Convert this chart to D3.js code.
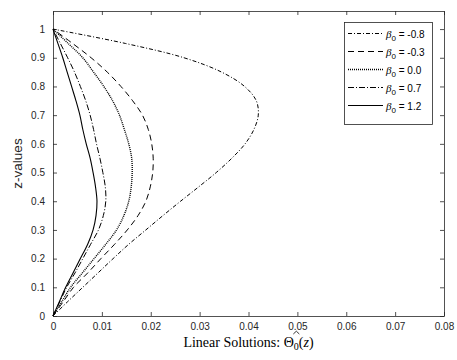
<!DOCTYPE html>
<html>
<head>
<meta charset="utf-8">
<script src="https://cdn.jsdelivr.net/npm/d3@7"></script>
<style>
  body { margin: 0; background: #fff; }
  svg { display: block; }
  .tick text { font-family: "Liberation Sans", Arial, sans-serif; font-size: 10px; fill: #262626; }
</style>
</head>
<body>
<div id="chart"></div>
<script>
// z samples (vertical axis)
const zVals = [0, 0.05, 0.1, 0.15, 0.2, 0.25, 0.3, 0.35, 0.4, 0.45, 0.5,
               0.55, 0.6, 0.65, 0.7, 0.75, 0.8, 0.85, 0.9, 0.95, 1.0];

// Theta_0(z) per beta_0
const thetaM08 = [0, 0.0030, 0.0061, 0.0092, 0.0123, 0.0155, 0.0190, 0.0225, 0.0261, 0.0298, 0.0334,
                  0.0366, 0.0393, 0.0411, 0.0420, 0.0416, 0.0392, 0.0345, 0.0268, 0.0148, 0];
const thetaM03 = [0, 0.0021, 0.0042, 0.0071, 0.0098, 0.0126, 0.0152, 0.0174, 0.0190, 0.0199, 0.0204,
                  0.0205, 0.0202, 0.0195, 0.0183, 0.0163, 0.0139, 0.0111, 0.0078, 0.0040, 0];
const theta00 = [0, 0.0018, 0.0036, 0.0060, 0.0084, 0.0108, 0.0130, 0.0145, 0.0155, 0.0160, 0.0162,
                 0.0161, 0.0155, 0.0146, 0.0136, 0.0122, 0.0104, 0.0083, 0.0061, 0.0031, 0];
const theta07 = [0, 0.0014, 0.0028, 0.0045, 0.0061, 0.0077, 0.0093, 0.0103, 0.0108, 0.0107, 0.0102,
                 0.0096, 0.0089, 0.0083, 0.0076, 0.0067, 0.0056, 0.0044, 0.0030, 0.0015, 0];
const theta12 = [0, 0.0013, 0.0026, 0.0041, 0.0056, 0.0071, 0.0082, 0.0088, 0.0090, 0.0087, 0.0082,
                 0.0076, 0.0068, 0.0061, 0.0055, 0.0047, 0.0038, 0.0029, 0.0020, 0.0010, 0];

const betaLabels = ["-0.8", "-0.3", "0.0", "0.7", "1.2"];
const xTicks = [0, 0.01, 0.02, 0.03, 0.04, 0.05, 0.06, 0.07, 0.08];
const yTicks = [0, 0.1, 0.2, 0.3, 0.4, 0.5, 0.6, 0.7, 0.8, 0.9, 1];

const series = [
  { label: betaLabels[0], vals: thetaM08, dash: "4,2,1,2", w: 1 },
  { label: betaLabels[1], vals: thetaM03, dash: "6,4", w: 1 },
  { label: betaLabels[2], vals: theta00, dash: "1,1", w: 1.4 },
  { label: betaLabels[3], vals: theta07, dash: "6,2,1,2", w: 1 },
  { label: betaLabels[4], vals: theta12, dash: null, w: 1.1 }
];

const width = 457, height = 360;
const margin = { left: 53, right: 13, top: 11, bottom: 44 };
const ink = "#262626";

const svg = d3.select("#chart").append("svg")
  .attr("width", width).attr("height", height);

const x = d3.scaleLinear().domain([0, 0.08]).range([margin.left, width - margin.right]);
const y = d3.scaleLinear().domain([0, 1.063]).range([height - margin.bottom, margin.top]);

// axes (ticks inside, on all four sides like matlab box on)
const fmt = d => d === 0 ? "0" : d3.format("~g")(d);
svg.append("g").attr("transform", `translate(0,${y(0)})`)
  .call(d3.axisBottom(x).tickValues(xTicks).tickFormat(fmt).tickSizeInner(-4).tickSizeOuter(0).tickPadding(7));
svg.append("g").attr("transform", `translate(0,${margin.top})`)
  .call(d3.axisTop(x).tickValues(xTicks).tickFormat("").tickSizeInner(-4).tickSizeOuter(0));
svg.append("g").attr("transform", `translate(${x(0)},0)`)
  .call(d3.axisLeft(y).tickValues(yTicks).tickFormat(fmt).tickSizeInner(-4).tickSizeOuter(0).tickPadding(8));
svg.append("g").attr("transform", `translate(${x(0.08)},0)`)
  .call(d3.axisRight(y).tickValues(yTicks).tickFormat("").tickSizeInner(-4).tickSizeOuter(0));

svg.selectAll(".domain").attr("stroke", ink).attr("stroke-width", 0.8);
svg.selectAll(".tick line").attr("stroke", ink).attr("stroke-width", 0.8);

// curves: z on y, theta on x
const line = d3.line()
  .x(d => x(d[0]))
  .y(d => y(d[1]))
  .curve(d3.curveCatmullRom.alpha(0.5));

series.forEach(s => {
  const pts = zVals.map((z, i) => [s.vals[i], z]);
  svg.append("path")
    .attr("d", line(pts))
    .attr("fill", "none")
    .attr("stroke", "#000")
    .attr("stroke-width", s.w)
    .attr("stroke-dasharray", s.dash);
});

// labels
svg.append("text")
  .attr("transform", `translate(22,${(y(0) + margin.top) / 2}) rotate(-90)`)
  .attr("text-anchor", "middle")
  .attr("font-family", "Liberation Sans, Arial, sans-serif")
  .attr("font-size", 13.5).attr("fill", ink)
  .text("z-values");

const xl = svg.append("text")
  .attr("x", (x(0) + x(0.08)) / 2).attr("y", 347)
  .attr("text-anchor", "middle")
  .attr("font-family", "Liberation Serif, Times New Roman, serif")
  .attr("font-size", 14).attr("fill", "#000");
xl.append("tspan").text("Linear Solutions:  ");
xl.append("tspan").text("\u0398");
xl.append("tspan").attr("font-size", 10).attr("dy", 3).text("0");
xl.append("tspan").attr("dy", -3).text("(");
xl.append("tspan").attr("font-style", "italic").text("z");
xl.append("tspan").text(")");

// hat over theta, drawn as a small path so it does not collide with tick text
const node = xl.node();
const idx = "Linear Solutions:  ".length;
const p0 = node.getStartPositionOfChar(idx);
const p1 = node.getEndPositionOfChar(idx);
const cx = (p0.x + p1.x) / 2;
svg.append("path")
  .attr("d", `M${cx - 3},${334} L${cx},${331.2} L${cx + 3},${334}`)
  .attr("fill", "none").attr("stroke", "#000").attr("stroke-width", 0.8);

// legend
const lg = svg.append("g");
lg.append("rect")
  .attr("x", 344.5).attr("y", 22.5).attr("width", 88).attr("height", 102)
  .attr("fill", "#fff").attr("stroke", ink).attr("stroke-width", 0.8);

series.forEach((s, i) => {
  const yy = 33.5 + i * 18;
  lg.append("line")
    .attr("x1", 348).attr("x2", 383).attr("y1", yy).attr("y2", yy)
    .attr("stroke", "#000").attr("stroke-width", s.w)
    .attr("stroke-dasharray", s.dash);
  const t = lg.append("text")
    .attr("x", 386).attr("y", yy + 4)
    .attr("font-family", "Liberation Sans, Arial, sans-serif")
    .attr("font-size", 10).attr("fill", "#000");
  t.append("tspan").attr("font-family", "Liberation Serif, serif")
    .attr("font-style", "italic").attr("font-size", 11).text("\u03B2");
  t.append("tspan").attr("font-size", 8).attr("dy", 3).text("0");
  t.append("tspan").attr("dy", -3).text(" = " + s.label);
});
</script>
</body>
</html>
